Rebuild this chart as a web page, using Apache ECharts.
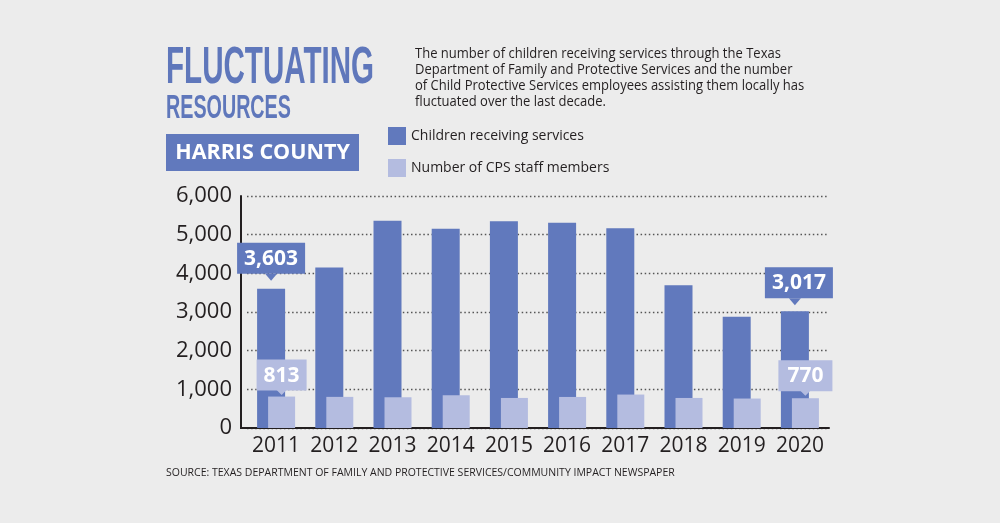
<!DOCTYPE html>
<html>
<head>
<meta charset="utf-8">
<title>Fluctuating resources</title>
<script src="https://cdn.jsdelivr.net/npm/echarts@6/dist/echarts.min.js"></script>
<style>
  html, body { margin: 0; padding: 0; background: #ececec; }
  #chart { width: 1000px; height: 523px; }
</style>
</head>
<body>
<div id="chart"></div>
<script>
// data
var years = ['2011', '2012', '2013', '2014', '2015', '2016', '2017', '2018', '2019', '2020'];
var childrenServed = [3603, 4150, 5360, 5150, 5345, 5310, 5165, 3690, 2875, 3017];
var cpsStaff = [813, 805, 795, 847, 777, 803, 865, 777, 762, 770];
var seriesNames = ['Children receiving services', 'Number of CPS staff members'];
var yMin = 0, yMax = 6000, yStep = 1000;
var calloutIdx = [0, 9];

var titleLines = ['FLUCTUATING', 'RESOURCES'];
var countyName = 'HARRIS COUNTY';
var descLines = [
    'The number of children receiving services through the Texas',
    'Department of Family and Protective Services and the number',
    'of Child Protective Services employees assisting them locally has',
    'fluctuated over the last decade.'
];
var sourceText = 'SOURCE: TEXAS DEPARTMENT OF FAMILY AND PROTECTIVE SERVICES/COMMUNITY IMPACT NEWSPAPER';

var DARK = '#6179bd';
var LIGHT = '#b4bce0';
var INK = '#231f20';
var FONT = '"Open Sans", "Noto Sans", sans-serif';

function fmt(v) {
    return Number(v).toLocaleString('en-US');
}

// bars with a boxed value label on the first and last year
function calloutData(values, label) {
    return values.map(function (v, i) {
        var item = { value: v };
        var k = calloutIdx.indexOf(i);
        if (k >= 0) {
            item.label = Object.assign({ show: true }, label[k]);
        }
        return item;
    });
}

var boxLabel = {
    position: 'top',
    color: '#fff',
    fontSize: 21,
    fontWeight: 'bold',
    fontFamily: FONT,
    lineHeight: 24,
    padding: [4, 7, 3, 7],
    formatter: function (p) { return fmt(p.value); }
};

var chart = echarts.init(document.getElementById('chart'));

var graphics = [];
graphics.push({
    type: 'text', x: 166, y: 69, scaleX: 0.58,
    style: { text: titleLines[0], font: 'bold 51px "Liberation Sans", sans-serif', fill: '#5f77bb', verticalAlign: 'middle' }
});
graphics.push({
    type: 'text', x: 166, y: 109, scaleX: 0.58,
    style: { text: titleLines[1], font: 'bold 34px "Liberation Sans", sans-serif', fill: '#5f77bb', verticalAlign: 'middle' }
});
graphics.push({
    type: 'rect', shape: { x: 166, y: 134, width: 193, height: 37 },
    style: { fill: DARK }
});
graphics.push({
    type: 'text', x: 262.5, y: 153,
    style: { text: countyName, font: 'bold 21.5px ' + FONT, fill: '#fff', align: 'center', verticalAlign: 'middle' }
});
descLines.forEach(function (line, i) {
    graphics.push({
        type: 'text', x: 415, y: 54.5 + i * 16, scaleX: 0.93,
        style: { text: line, font: '14px ' + FONT, fill: INK, verticalAlign: 'middle' }
    });
});
graphics.push({
    type: 'text', x: 166, y: 473,
    style: { text: sourceText, font: '10.5px ' + FONT, fill: INK, verticalAlign: 'middle' }
});
// x axis line runs on to the y axis
graphics.push({
    type: 'line', shape: { x1: 240, y1: 428, x2: 248, y2: 428 },
    style: { stroke: INK, lineWidth: 2 }
});

var option = {
    backgroundColor: '#ececec',
    animation: false,
    textStyle: { fontFamily: FONT },
    graphic: graphics,
    legend: {
        orient: 'vertical',
        left: 383,
        top: 122,
        itemWidth: 18,
        itemHeight: 18,
        itemGap: 14,
        icon: 'rect',
        textStyle: { fontSize: 14, color: INK, fontFamily: FONT },
        data: seriesNames
    },
    grid: { left: 247, right: 171, top: 196, bottom: 95 },
    xAxis: {
        type: 'category',
        data: years,
        axisLine: { lineStyle: { color: INK, width: 2 } },
        axisTick: { show: false },
        axisLabel: { color: INK, fontSize: 21, margin: 8, interval: 0, fontFamily: FONT }
    },
    yAxis: {
        type: 'value',
        min: yMin,
        max: yMax,
        interval: yStep,
        offset: 6,
        axisLine: { show: true, lineStyle: { color: INK, width: 2 } },
        axisTick: { show: false },
        axisLabel: { color: INK, fontSize: 22, margin: 9, fontFamily: FONT, formatter: fmt },
        splitLine: { lineStyle: { color: '#555', width: 1.3, type: [1.5, 2.6] } }
    },
    series: [
        {
            name: seriesNames[0],
            type: 'bar',
            barWidth: 28,
            barGap: '-60.7%',
            itemStyle: { color: DARK },
            data: calloutData(childrenServed, [
                Object.assign({}, boxLabel, { backgroundColor: DARK, distance: 15 }),
                Object.assign({}, boxLabel, { backgroundColor: DARK, distance: 13, offset: [4, 0] })
            ]),
            markPoint: {
                silent: true,
                symbol: 'triangle',
                symbolRotate: 180,
                symbolSize: [12, 7],
                itemStyle: { color: DARK },
                label: { show: false },
                data: [
                    { coord: [years[0], childrenServed[0]], symbolOffset: [0, -11.5] },
                    { coord: [years[9], childrenServed[9]], symbolOffset: [0, -9.5] }
                ]
            }
        },
        {
            name: seriesNames[1],
            type: 'bar',
            barWidth: 27,
            itemStyle: { color: LIGHT },
            data: calloutData(cpsStaff, [
                Object.assign({}, boxLabel, { backgroundColor: LIGHT, distance: 6 }),
                Object.assign({}, boxLabel, { backgroundColor: LIGHT, distance: 7, padding: [4, 9, 3, 9] })
            ]),
            markPoint: {
                silent: true,
                symbol: 'triangle',
                symbolRotate: 180,
                symbolSize: [10, 5],
                itemStyle: { color: LIGHT },
                label: { show: false },
                data: [
                    { coord: [years[0], cpsStaff[0]], symbolOffset: [0, -4] },
                    { coord: [years[9], cpsStaff[9]], symbolOffset: [0, -5] }
                ]
            }
        }
    ]
};

chart.setOption(option);
</script>
</body>
</html>
